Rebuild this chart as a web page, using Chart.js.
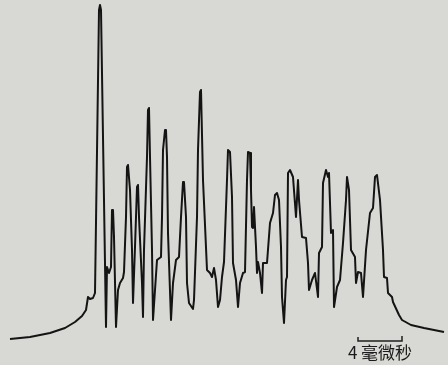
<!DOCTYPE html>
<html>
<head>
<meta charset="utf-8">
<script src="https://cdn.jsdelivr.net/npm/chart.js@4/dist/chart.umd.min.js"></script>
<style>
  html, body { margin: 0; padding: 0; background: #d8d8d4; }
  #wrap { width: 448px; height: 365px; position: relative; }
</style>
</head>
<body>
<div id="wrap"><canvas id="myChart"></canvas></div>
<script>
    // waveform: time (pixel column) and amplitude (365 - pixel row)
    var timeAxis = [
        10, 30, 50, 65, 75, 82, 86, 88, 90, 93,
        95, 99, 100, 101, 106, 107, 109, 111, 112, 113,
        114, 116, 118, 120, 123, 124, 126, 127, 128, 130,
        132, 133, 135, 137, 138, 139, 142, 143, 144, 147,
        148, 149, 150, 152, 153, 155, 157, 161, 162, 163,
        165, 166, 167, 168, 171, 173, 176, 179, 181, 183,
        184, 186, 187, 189, 193, 194, 197, 198, 200, 201,
        203, 207, 210, 212, 214, 216, 218, 220, 222, 224,
        227, 228, 230, 232, 233, 236, 238, 240, 243, 245,
        247, 248, 250, 251, 252, 253, 254, 256, 257, 258,
        260, 262, 263, 267, 270, 273, 275, 277, 279, 281,
        282, 284, 286, 287, 288, 290, 293, 296, 298, 299,
        302, 306, 308, 309, 312, 315, 318, 319, 322, 323,
        326, 328, 329, 331, 333, 334, 337, 340, 343, 346,
        347, 349, 351, 355, 356, 358, 361, 363, 366, 370,
        373, 375, 377, 380, 383, 384, 387, 388, 392, 393,
        399, 402, 411, 424, 444];
    var traceRow = [
        339, 337, 333, 328, 322, 316, 310, 297, 299, 298,
        293, 10, 5, 10, 327, 267, 273, 267, 210, 210,
        237, 327, 290, 283, 278, 272, 217, 167, 165, 190,
        250, 303, 247, 187, 185, 217, 283, 317, 250, 157,
        110, 108, 157, 250, 320, 290, 260, 257, 217, 150,
        130, 130, 157, 233, 320, 283, 260, 257, 217, 182,
        182, 217, 283, 303, 309, 300, 217, 150, 92, 90,
        180, 270, 273, 277, 268, 280, 307, 300, 277, 262,
        180, 150, 152, 197, 263, 280, 307, 283, 273, 272,
        180, 152, 153, 190, 227, 228, 207, 247, 273, 262,
        273, 293, 263, 263, 223, 213, 195, 193, 200, 247,
        297, 323, 280, 277, 173, 170, 177, 217, 180, 200,
        237, 238, 263, 290, 280, 273, 297, 253, 247, 183,
        170, 177, 173, 233, 230, 307, 287, 280, 243, 200,
        177, 190, 250, 257, 283, 272, 273, 297, 250, 213,
        208, 177, 175, 200, 250, 277, 278, 293, 297, 302,
        315, 320, 325, 328, 332];
    var amplitude = traceRow.map(function (r) { return 365 - r; });

    // 4 ns scale bar
    var barTime = [358, 358, 402, 402];
    var barAmp = [28, 24, 24, 29];
    var barLabel = '4 毫微秒';

    var trace = timeAxis.map(function (t, i) { return { x: t, y: amplitude[i] }; });
    var bar = barTime.map(function (t, i) { return { x: t, y: barAmp[i] }; });

    var labelPlugin = {
        id: 'barLabel',
        afterDraw: function (chart) {
            var c = chart.ctx;
            var xs = chart.scales.x, ys = chart.scales.y;
            c.save();
            c.fillStyle = '#1a1a1a';
            c.font = '17px "Noto Sans CJK SC", sans-serif';
            c.textAlign = 'center';
            c.textBaseline = 'middle';
            c.fillText(barLabel, xs.getPixelForValue(380), ys.getPixelForValue(12));
            c.restore();
        }
    };

    new Chart(document.getElementById('myChart'), {
        type: 'scatter',
        data: {
            datasets: [{
                data: trace,
                showLine: true,
                borderColor: '#141414',
                borderWidth: 2,
                borderJoinStyle: 'round',
                pointRadius: 0,
                tension: 0
            }, {
                data: bar,
                showLine: true,
                borderColor: '#1e1e1e',
                borderWidth: 1.5,
                pointRadius: 0
            }]
        },
        options: {
            responsive: true,
            maintainAspectRatio: false,
            animation: false,
            layout: { padding: 0 },
            plugins: { legend: { display: false }, tooltip: { enabled: false } },
            scales: {
                x: { type: 'linear', min: 0, max: 448, display: false },
                y: { type: 'linear', min: 0, max: 365, display: false }
            }
        },
        plugins: [labelPlugin]
    });
</script>
</body>
</html>
